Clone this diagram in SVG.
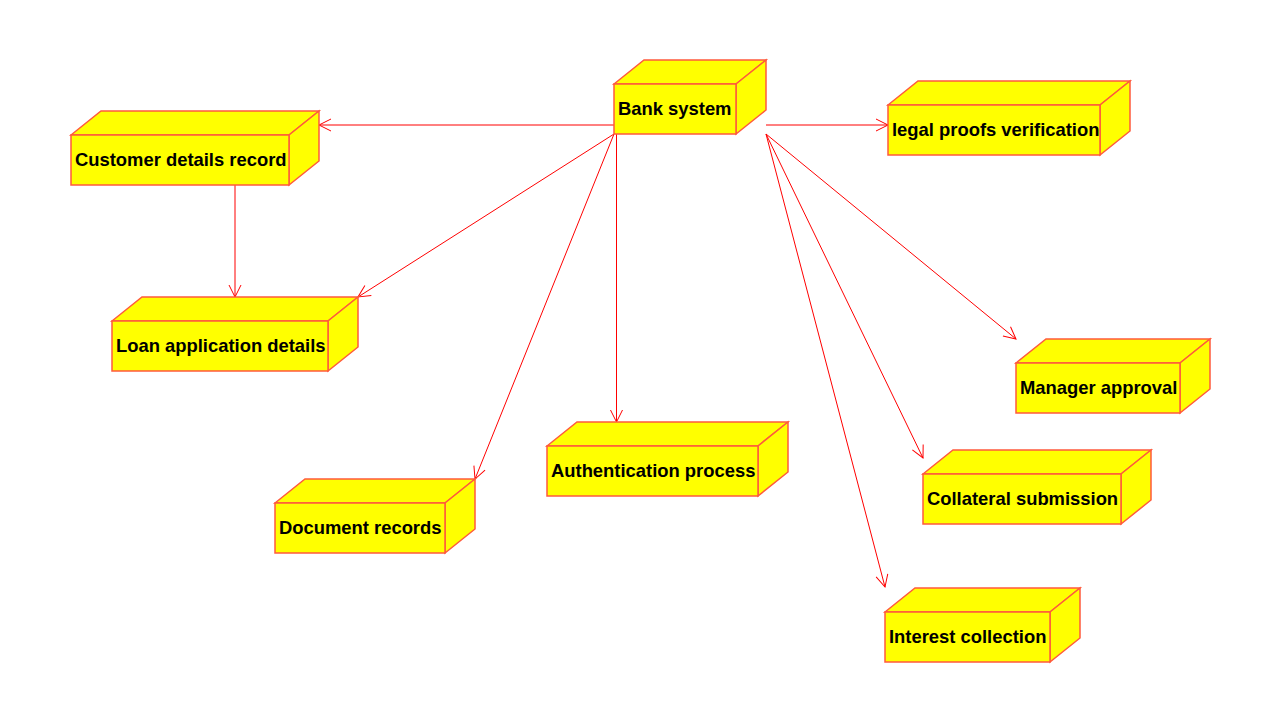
<svg xmlns="http://www.w3.org/2000/svg" width="1272" height="711" viewBox="0 0 1272 711">
<defs>
<style>
.face{fill:#ffff00;stroke:#ff5a3c;stroke-width:1.5;stroke-linejoin:miter}
.lbl{font-family:"Liberation Sans",Arial,sans-serif;font-weight:bold;font-size:18.4px;fill:#000}
.edge{stroke:#ff0000;stroke-width:1;fill:none}
</style>
<marker id="arr" markerUnits="userSpaceOnUse" markerWidth="16" markerHeight="16" refX="13" refY="7" orient="auto">
<path d="M1,1 L13,7 L1,13" fill="none" stroke="#ff0000" stroke-width="1"/>
</marker>
</defs>
<rect width="1272" height="711" fill="#ffffff"/>
<g id="connectors">
<line class="edge" x1="614" y1="125" x2="319" y2="125" marker-end="url(#arr)"/>
<line class="edge" x1="766" y1="125" x2="888" y2="125" marker-end="url(#arr)"/>
<line class="edge" x1="235" y1="185" x2="235" y2="297" marker-end="url(#arr)"/>
<line class="edge" x1="614" y1="134" x2="358" y2="297" marker-end="url(#arr)"/>
<line class="edge" x1="614" y1="134" x2="475" y2="479" marker-end="url(#arr)"/>
<line class="edge" x1="616.5" y1="134" x2="616.5" y2="422" marker-end="url(#arr)"/>
<line class="edge" x1="766" y1="134" x2="1016" y2="339" marker-end="url(#arr)"/>
<line class="edge" x1="766" y1="134" x2="923" y2="458" marker-end="url(#arr)"/>
<line class="edge" x1="766" y1="134" x2="885" y2="587" marker-end="url(#arr)"/>
</g>
<g id="bank">
<polygon class="face" points="614,84 644,60 766,60 736,84"/>
<polygon class="face" points="736,84 766,60 766,110 736,134"/>
<rect class="face" x="614" y="84" width="122" height="50"/>
<text class="lbl" x="618" y="115">Bank system</text>
</g>
<g id="customer">
<polygon class="face" points="71,135 101,111 319,111 289,135"/>
<polygon class="face" points="289,135 319,111 319,161 289,185"/>
<rect class="face" x="71" y="135" width="218" height="50"/>
<text class="lbl" x="75" y="166">Customer details record</text>
</g>
<g id="legal">
<polygon class="face" points="888,105 918,81 1130,81 1100,105"/>
<polygon class="face" points="1100,105 1130,81 1130,131 1100,155"/>
<rect class="face" x="888" y="105" width="212" height="50"/>
<text class="lbl" x="892" y="136">legal proofs verification</text>
</g>
<g id="loan">
<polygon class="face" points="112,321 142,297 358,297 328,321"/>
<polygon class="face" points="328,321 358,297 358,347 328,371"/>
<rect class="face" x="112" y="321" width="216" height="50"/>
<text class="lbl" x="116" y="352">Loan application details</text>
</g>
<g id="document">
<polygon class="face" points="275,503 305,479 475,479 445,503"/>
<polygon class="face" points="445,503 475,479 475,529 445,553"/>
<rect class="face" x="275" y="503" width="170" height="50"/>
<text class="lbl" x="279" y="534">Document records</text>
</g>
<g id="auth">
<polygon class="face" points="547,446 577,422 788,422 758,446"/>
<polygon class="face" points="758,446 788,422 788,472 758,496"/>
<rect class="face" x="547" y="446" width="211" height="50"/>
<text class="lbl" x="551" y="477">Authentication process</text>
</g>
<g id="manager">
<polygon class="face" points="1016,363 1046,339 1210,339 1180,363"/>
<polygon class="face" points="1180,363 1210,339 1210,389 1180,413"/>
<rect class="face" x="1016" y="363" width="164" height="50"/>
<text class="lbl" x="1020" y="394">Manager approval</text>
</g>
<g id="collateral">
<polygon class="face" points="923,474 953,450 1151,450 1121,474"/>
<polygon class="face" points="1121,474 1151,450 1151,500 1121,524"/>
<rect class="face" x="923" y="474" width="198" height="50"/>
<text class="lbl" x="927" y="505">Collateral submission</text>
</g>
<g id="interest">
<polygon class="face" points="885,612 915,588 1080,588 1050,612"/>
<polygon class="face" points="1050,612 1080,588 1080,638 1050,662"/>
<rect class="face" x="885" y="612" width="165" height="50"/>
<text class="lbl" x="889" y="643">Interest collection</text>
</g>
</svg>
